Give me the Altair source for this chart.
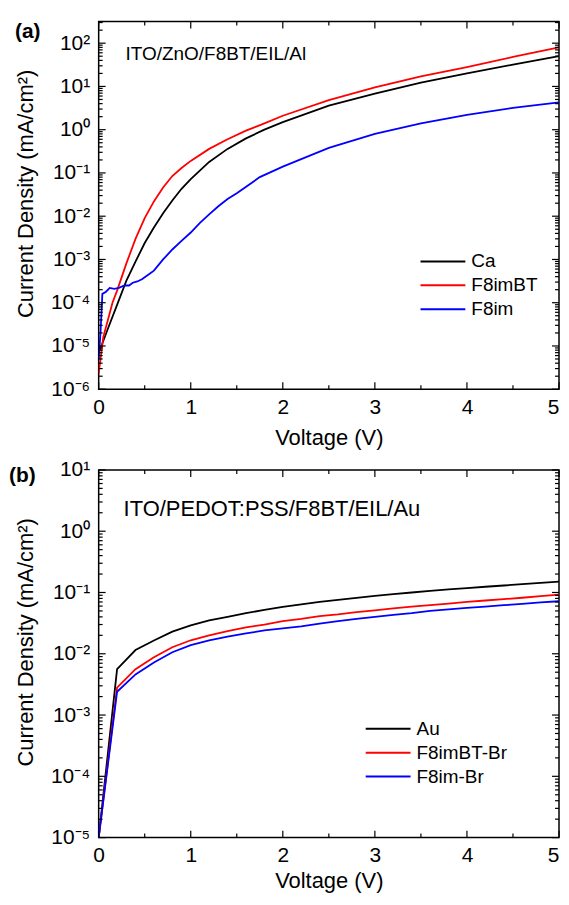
import altair as alt
import pandas as pd

FONT = "Liberation Sans"
W, H = 462, 369

# ---------------- Panel (a) data ----------------
a_ca_v = [0, 0.05, 0.1, 0.2, 0.3, 0.4, 0.5, 0.6, 0.7, 0.8, 0.9, 1.0, 1.2, 1.4, 1.6, 1.8, 2.0, 2.5, 3.0, 3.5, 4.0, 4.5, 5.0]
a_ca_j = [7e-6, 1.3e-5, 2.5e-5, 8.9e-5, 3.2e-4, 8.9e-4, 2.4e-3, 5.5e-3, 1.17e-2, 2.3e-2, 4.3e-2, 7.2e-2, 0.18, 0.36, 0.63, 1.0, 1.5, 3.6, 6.8, 12.2, 20, 32, 50]

a_bt_v = [0, 0.05, 0.1, 0.15, 0.2, 0.3, 0.4, 0.5, 0.6, 0.7, 0.8, 0.9, 1.0, 1.2, 1.4, 1.6, 1.8, 2.0, 2.5, 3.0, 3.5, 4.0, 4.5, 5.0]
a_bt_j = [2.3e-6, 1.6e-5, 4e-5, 1e-4, 1.9e-4, 8e-4, 3e-3, 9e-3, 2.2e-2, 4.6e-2, 8.5e-2, 0.13, 0.19, 0.36, 0.6, 0.95, 1.4, 2.1, 4.8, 9.5, 17, 28, 48, 80]

a_im_v = [0, 0.02, 0.04, 0.08, 0.12, 0.17, 0.22, 0.28, 0.33, 0.37, 0.42, 0.47, 0.55, 0.6, 0.7, 0.8, 0.9, 1.0, 1.1, 1.2, 1.3, 1.4, 1.5, 1.75, 2.0, 2.5, 3.0, 3.5, 4.0, 4.5, 5.0]
a_im_j = [5e-6, 2e-5, 1.6e-4, 1.8e-4, 2.2e-4, 2.1e-4, 2.2e-4, 2.5e-4, 2.5e-4, 2.9e-4, 3.1e-4, 3.5e-4, 4.6e-4, 5.5e-4, 1e-3, 1.7e-3, 2.7e-3, 4.2e-3, 7e-3, 1.1e-2, 1.7e-2, 2.5e-2, 3.4e-2, 8e-2, 0.14, 0.38, 0.8, 1.4, 2.2, 3.2, 4.3]

a_names = ["Ca", "F8imBT", "F8im"]
a_colors = ["#000000", "#ff0000", "#0000ff"]

# ---------------- Panel (b) data ----------------
b_v = [0, 0.2, 0.4, 0.6, 0.8, 1.0, 1.2, 1.4, 1.6, 1.8, 2.0, 2.2, 2.4, 2.6, 2.8, 3.0, 3.2, 3.4, 3.6, 3.8, 4.0, 4.2, 4.4, 4.6, 4.8, 5.0]
b_au_j = [1e-5, 5.6e-3, 0.0115, 0.0165, 0.023, 0.029, 0.035, 0.040, 0.046, 0.052, 0.058, 0.064, 0.070, 0.076, 0.082, 0.088, 0.094, 0.100, 0.106, 0.112, 0.118, 0.124, 0.130, 0.137, 0.143, 0.150]
b_bt_j = [1e-5, 2.8e-3, 5.6e-3, 8.8e-3, 0.0128, 0.0166, 0.020, 0.0235, 0.027, 0.030, 0.034, 0.037, 0.041, 0.044, 0.048, 0.051, 0.055, 0.059, 0.062, 0.066, 0.070, 0.074, 0.078, 0.082, 0.087, 0.092]
b_im_j = [1e-5, 2.4e-3, 4.6e-3, 7.2e-3, 0.0106, 0.0138, 0.0165, 0.019, 0.0215, 0.024, 0.026, 0.028, 0.031, 0.034, 0.037, 0.040, 0.043, 0.046, 0.050, 0.053, 0.056, 0.059, 0.062, 0.065, 0.069, 0.072]

b_names = ["Au", "F8imBT-Br", "F8im-Br"]
b_colors = ["#000000", "#ff0000", "#0000ff"]

# ---------------- axes ticks ----------------
x_major = [0, 1, 2, 3, 4, 5]
x_minor = [0.5, 1.5, 2.5, 3.5, 4.5]
a_decades = [-6, -5, -4, -3, -2, -1, 0, 1, 2]
b_decades = [-5, -4, -3, -2, -1, 0, 1]

SUP = "['\u2070','\u00b9','\u00b2','\u00b3','\u2074','\u2075','\u2076','\u2077','\u2078','\u2079']"
LOGE = "round(log(datum.value)/LN10)"
LABEL_EXPR = f"'10' + ({LOGE} < 0 ? '\u207b' : '') + {SUP}[abs({LOGE})]"


def make_panel(series, names, colors, ydom, decades, inset, inset_size, inset_x, inset_y,
               tag, tag_x, tag_y, leg_x, leg_y, title_off):
    rows = []
    for name, vs, js in series:
        for v, j in zip(vs, js):
            rows.append({"series": name, "V": v, "J": j})
    df = pd.DataFrame(rows)

    xs = alt.Scale(domain=[0, 5], nice=False, zero=False)
    ys = alt.Scale(type="log", domain=ydom, nice=False)
    x_axis = alt.Axis(values=x_major, format="d", title="Voltage (V)", labelFlush=False,
                      labelAlign=alt.condition("datum.value >= 5", alt.value("right"), alt.value("center")),
                      labelPadding=7, titleY=title_off, titleBaseline="alphabetic", titleX=W / 2)
    y_axis = alt.Axis(values=[10.0 ** d for d in decades], labelExpr=LABEL_EXPR,
                      title="Current Density (mA/cm\u00b2)", labelPadding=9, labelFlush=False,
                      labelOverlap=False, titleX=-66, titleY=H / 2 - 12, titleAngle=-90,
                      titleAlign="center", titleBaseline="alphabetic")
    X = alt.X("V:Q", scale=xs, axis=x_axis)
    Y = alt.Y("J:Q", scale=ys, axis=y_axis)

    lines = alt.Chart(df).mark_line(strokeWidth=1.8, clip=True).encode(
        x=X, y=Y,
        color=alt.Color("series:N", sort=names,
                        scale=alt.Scale(domain=names, range=colors),
                        legend=alt.Legend(title=None, orient="none", legendX=leg_x, legendY=leg_y,
                                          symbolType="stroke", symbolSize=2025,
                                          symbolStrokeWidth=2, labelFont=FONT, labelFontSize=19,
                                          labelColor="black", labelOffset=5, padding=0,
                                          rowPadding=0, clipHeight=23.5)),
    )

    layers = [lines]
    xmaj = pd.DataFrame({"V": x_major})
    xmin = pd.DataFrame({"V": x_minor})
    for d, ln in [(xmaj, 7), (xmin, 4)]:
        layers.append(alt.Chart(d).mark_rule(color="black", strokeWidth=1.2).encode(
            x=X, y=alt.value(H), y2=alt.value(H - ln)))
        layers.append(alt.Chart(d).mark_rule(color="black", strokeWidth=1.2).encode(
            x=X, y=alt.value(0), y2=alt.value(ln)))
    lo, hi = ydom
    ymaj_vals = [10.0 ** d for d in decades]
    ymin_vals = [m * 10.0 ** d for d in decades for m in range(2, 10) if lo < m * 10.0 ** d < hi]
    ymaj = pd.DataFrame({"J": ymaj_vals})
    ymin = pd.DataFrame({"J": ymin_vals})
    for d, ln in [(ymaj, 7), (ymin, 4)]:
        layers.append(alt.Chart(d).mark_rule(color="black", strokeWidth=1.2).encode(
            y=Y, x=alt.value(0), x2=alt.value(ln)))
        layers.append(alt.Chart(d).mark_rule(color="black", strokeWidth=1.2).encode(
            y=Y, x=alt.value(W), x2=alt.value(W - ln)))

    layers.append(alt.Chart(pd.DataFrame({"t": [inset]})).mark_text(
        font=FONT, fontSize=inset_size, align="left", baseline="middle", color="black").encode(
        text="t:N", x=alt.value(inset_x), y=alt.value(inset_y)))
    layers.append(alt.Chart(pd.DataFrame({"t": [tag]})).mark_text(
        font=FONT, fontSize=21, fontWeight="bold", align="left", baseline="middle", color="black").encode(
        text="t:N", x=alt.value(tag_x), y=alt.value(tag_y)))

    return alt.layer(*layers).properties(width=W, height=H)


top = make_panel(
    [("Ca", a_ca_v, a_ca_j), ("F8imBT", a_bt_v, a_bt_j), ("F8im", a_im_v, a_im_j)],
    a_names, a_colors, [1e-6, 10 ** 2.5], a_decades,
    "ITO/ZnO/F8BT/EIL/Al", 19, 27, 33, "(a)", -84, 10.5, 322, 229, 55)

bottom = make_panel(
    [("Au", b_v, b_au_j), ("F8imBT-Br", b_v, b_bt_j), ("F8im-Br", b_v, b_im_j)],
    b_names, b_colors, [1e-5, 10], b_decades,
    "ITO/PEDOT:PSS/F8BT/EIL/Au", 22, 25, 39, "(b)", -90, 6.5, 267, 248, 50)

chart = alt.vconcat(top, bottom, spacing=81, bounds="flush").resolve_scale(
    x="independent", y="independent", color="independent").resolve_legend(
    color="independent").properties(padding={"left": 0, "top": 10, "right": 0, "bottom": 0}).configure_view(
    stroke="black", strokeWidth=1.5).configure_axis(
    labelFont=FONT, labelFontSize=21, labelColor="black", titleFont=FONT, titleFontSize=22,
    titleFontWeight="normal", titleColor="black", ticks=False, domain=False, grid=False)

chart.save("out.html", embed_options={"renderer": "svg", "actions": False})
